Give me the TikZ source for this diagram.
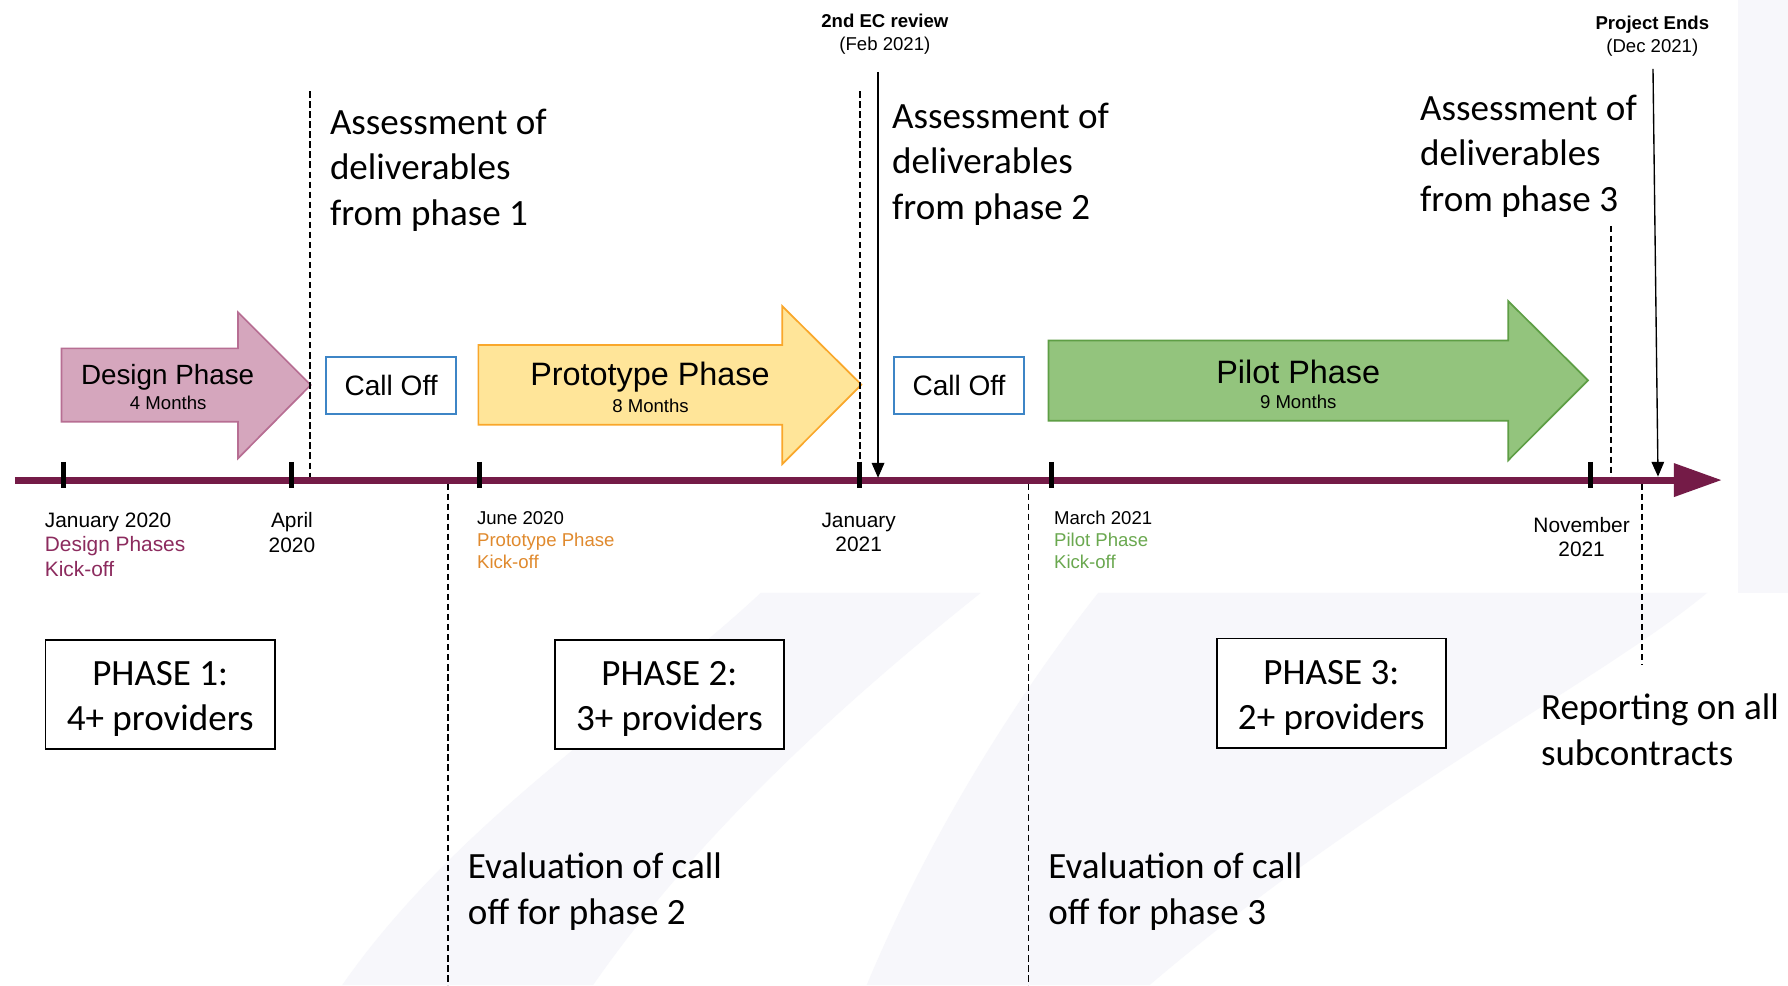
\documentclass[tikz,border=0pt]{standalone}
\usepackage{fontspec}
\setmainfont{Liberation Sans}
\newfontfamily\calfont{Carlito}
\usetikzlibrary{arrows.meta}
\definecolor{tline}{HTML}{741B47}
\definecolor{dfill}{HTML}{D5A6BD}
\definecolor{ddraw}{HTML}{B76E93}
\definecolor{pfill}{HTML}{FFE599}
\definecolor{pdraw}{HTML}{F9A72B}
\definecolor{gfill}{HTML}{93C47D}
\definecolor{gdraw}{HTML}{5E9E45}
\definecolor{cblue}{HTML}{3D85C6}
\definecolor{tdesign}{HTML}{8C2B5E}
\definecolor{tproto}{HTML}{E08A2E}
\definecolor{tpilot}{HTML}{6AA84F}
\definecolor{swoosh}{HTML}{F7F7FB}
\tikzset{
  bigtxt/.style={font=\calfont\fontsize{16.25}{20}\selectfont, align=left, inner sep=0pt, anchor=west},
  datel/.style={font=\fontsize{9.15}{10.6}\selectfont, inner sep=0pt},
  kickl/.style={font=\fontsize{8.15}{9.75}\selectfont, inner sep=0pt, align=left, anchor=west},
  callbox/.style={draw=cblue, line width=1pt, fill=white, minimum width=57pt, minimum height=25pt, font=\fontsize{12.3}{14}\selectfont, inner sep=0pt},
  phasebox/.style={draw=black, line width=0.75pt, fill=white, minimum width=100.5pt, minimum height=48pt, align=center, inner sep=0pt, font=\calfont\fontsize{16.25}{19.5}\selectfont},
  dline/.style={dash pattern=on 2.8pt off 1.6pt, line width=0.7pt},
  tickm/.style={line width=2pt, black},
  evarrow/.style={-{Triangle[length=6.5pt,width=5.5pt]}, line width=0.6pt},
  blockarrow/.style={line width=0.75pt},
  bigphase/.style={font=\fontsize{14.2}{16}\selectfont, inner sep=0pt},
  smallphase/.style={font=\fontsize{8.15}{10}\selectfont, inner sep=0pt},
  evlabel/.style={font=\fontsize{8.15}{10.4}\selectfont, align=center, inner sep=0pt}
}
\begin{document}
\begin{tikzpicture}[x=0.5pt,y=-0.5pt]
\useasboundingbox (0,0) rectangle (1568,864);
\fill[white] (0,0) rectangle (1568,864);
% faint background swoosh
\fill[swoosh] (667,520) .. controls (560,620) and (400,720) .. (300,864) -- (520,864) .. controls (620,720) and (760,600) .. (860,520) -- cycle;
\fill[swoosh] (963,520) .. controls (900,600) and (820,720) .. (760,864) -- (1008,864) .. controls (1200,700) and (1400,600) .. (1497,520) -- cycle;
\fill[swoosh] (1524,0) rectangle (1568,520);

% phase block arrows
\draw[blockarrow, draw=ddraw, fill=dfill] (54,305.5) -- (208.8,305.5) -- (208.8,273.9) -- (272.5,337.6) -- (208.8,401.9) -- (208.8,369.8) -- (54,369.8) -- cycle;
\draw[blockarrow, draw=pdraw, fill=pfill] (419.5,302.6) -- (686,302.6) -- (686,268.5) -- (755.4,337.3) -- (686,407) -- (686,372.5) -- (419.5,372.5) -- cycle;
\draw[blockarrow, draw=gdraw, fill=gfill] (919.5,298.5) -- (1322.6,298.5) -- (1322.6,264) -- (1392.6,333.5) -- (1322.6,403.7) -- (1322.6,369) -- (919.5,369) -- cycle;

\node[font=\fontsize{12.2}{14}\selectfont, inner sep=0pt] (dpt) at (147,331) {Design Phase};
\node[smallphase] (dpm) at (147.5,353) {4 Months};
\node[bigphase] (ppt) at (570,331) {Prototype Phase};
\node[smallphase] (ppm) at (570.5,356) {8 Months};
\node[bigphase] (gpt) at (1138.5,326) {Pilot Phase};
\node[smallphase] (gpm) at (1138.5,352) {9 Months};

% call off boxes
\node[callbox] (co1) at (343,338) {Call Off};
\node[callbox] (co2) at (841,338) {Call Off};

% dashed markers
\draw[dline] (272,80) -- (272,422);
\draw[dline] (393,424) -- (393,864);
\draw[dline] (754,80) -- (754,420);
\draw[dline] (902,424) -- (902,864);
\draw[dline] (1413,198) -- (1413,420);
\draw[dline] (1440,424) -- (1440,583);

% timeline
\coordinate (tl0) at (13,421);
\coordinate (tl1) at (1510,421);
\draw[line width=3pt, tline, -{Triangle[length=21pt,width=14pt]}] (tl0) -- (tl1);
\foreach \x in {55.5,255.7,420.5,753.7,922,1395}
  \draw[tickm] (\x,405) -- (\x,428);

% review / end arrows
\node[evlabel] (ec) at (776,30) {\textbf{2nd EC review}\\(Feb 2021)};
\coordinate (ectop) at (770,63);
\coordinate (ecbot) at (770,419);
\draw[evarrow] (ectop) -- (ecbot);
\node[evlabel, font=\fontsize{8.15}{10}\selectfont] (pe) at (1449,32) {\textbf{Project Ends}\\(Dec 2021)};
\coordinate (petop) at (1449.6,60.4);
\coordinate (pebot) at (1454,418);
\draw[evarrow] (petop) -- (pebot);

% date labels
\node[datel, align=left, anchor=west, font=\fontsize{9.15}{10.75}\selectfont] (jan20) at (39,477.5) {January 2020\\\textcolor{tdesign}{Design Phases}\\\textcolor{tdesign}{Kick-off}};
\node[datel, align=center] (apr20) at (256,467) {April\\2020};
\node[kickl] (jun20) at (418,473.5) {June 2020\\\textcolor{tproto}{Prototype Phase}\\\textcolor{tproto}{Kick-off}};
\node[datel, align=center] (jan21) at (753,467) {January\\2021};
\node[kickl] (mar21) at (924,473.5) {March 2021\\\textcolor{tpilot}{Pilot Phase}\\\textcolor{tpilot}{Kick-off}};
\node[datel, align=center] (nov21) at (1387,471) {November\\2021};

% assessment texts
\node[bigtxt] (as1) at (289,149) {Assessment of\\deliverables\\from phase 1};
\node[bigtxt] (as2) at (782,144) {Assessment of\\deliverables\\from phase 2};
\node[bigtxt] (as3) at (1245,137) {Assessment of\\deliverables\\from phase 3};

% phase boxes
\node[phasebox] (ph1) at (140.5,609) {\rule{0pt}{14.5pt}PHASE 1:\\4+ providers};
\node[phasebox] (ph2) at (587,609) {\rule{0pt}{14.5pt}PHASE 2:\\3+ providers};
\node[phasebox] (ph3) at (1167.5,608) {\rule{0pt}{14.5pt}PHASE 3:\\2+ providers};

% evaluation / reporting texts
\node[bigtxt] (ev2) at (410,782) {Evaluation of call\\off for phase 2};
\node[bigtxt] (ev3) at (919,782) {Evaluation of call\\off for phase 3};
\node[bigtxt] (rep) at (1351,640) {Reporting on all\\subcontracts};
\end{tikzpicture}
\end{document}
